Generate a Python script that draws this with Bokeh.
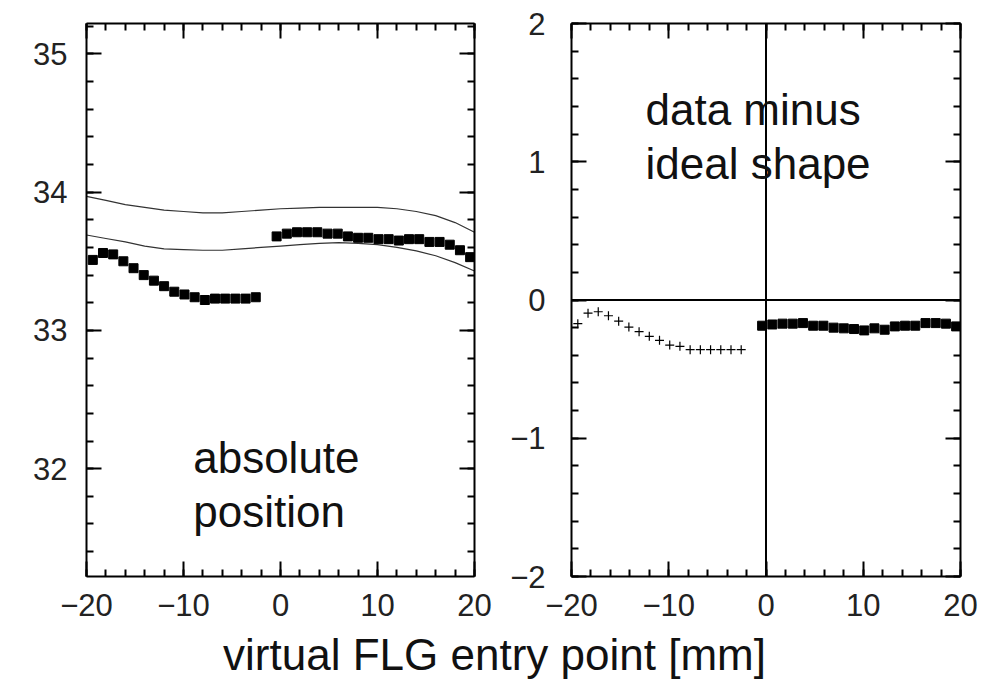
from bokeh.plotting import figure
from bokeh.models import Range1d, LinearAxis, SingleIntervalTicker, Label, Span
from bokeh.layouts import column, row
from bokeh.embed import file_html
from bokeh.resources import INLINE

# ---------------- data ----------------
x_group_a = [-19.35, -18.3, -17.25, -16.2, -15.15, -14.1, -13.05, -12.0, -10.95,
             -9.9, -8.85, -7.8, -6.75, -5.7, -4.65, -3.6, -2.55]
x_group_b = [-0.4, 0.65, 1.7, 2.75, 3.8, 4.85, 5.9, 6.95, 8.0, 9.05, 10.1,
             11.15, 12.2, 13.25, 14.3, 15.35, 16.4, 17.45, 18.5, 19.55]

abs_group_a = [33.51, 33.56, 33.55, 33.50, 33.45, 33.40, 33.36, 33.32, 33.28,
               33.26, 33.24, 33.22, 33.23, 33.23, 33.23, 33.23, 33.24]
abs_group_b = [33.68, 33.70, 33.71, 33.71, 33.71, 33.70, 33.70, 33.68, 33.67, 33.67,
               33.66, 33.66, 33.65, 33.66, 33.66, 33.64, 33.64, 33.62, 33.58, 33.53]

curve_x = [-20, -18, -16, -14, -12, -10, -8, -6, -4, -2, 0, 2, 4, 6, 8, 10,
           12, 14, 16, 18, 20]
curve_upper = [33.97, 33.94, 33.91, 33.89, 33.87, 33.86, 33.85, 33.85, 33.86, 33.87, 33.88,
               33.885, 33.89, 33.89, 33.89, 33.89, 33.88, 33.86, 33.83, 33.78, 33.71]
curve_lower = [33.69, 33.665, 33.64, 33.61, 33.59, 33.585, 33.58, 33.58, 33.59, 33.60, 33.61,
               33.62, 33.63, 33.635, 33.63, 33.62, 33.60, 33.575, 33.54, 33.49, 33.43]

diff_group_a = [-0.171, -0.095, -0.085, -0.114, -0.153, -0.196, -0.229, -0.263, -0.292,
                -0.326, -0.335, -0.359, -0.359, -0.359, -0.359, -0.359, -0.359]
diff_group_b = [-0.186, -0.177, -0.171, -0.171, -0.167, -0.186, -0.186, -0.200, -0.205, -0.210,
                -0.220, -0.205, -0.215, -0.191, -0.186, -0.186, -0.167, -0.167, -0.171, -0.191]

x_tick_values = [-20, -10, 0, 10, 20]
x_tick_labels = ["\u221220", "\u221210", "0", "10", "20"]
abs_tick_values = [32, 33, 34, 35]
abs_tick_labels = ["32", "33", "34", "35"]
diff_tick_values = [-2, -1, 0, 1, 2]
diff_tick_labels = ["\u22122", "\u22121", "0", "1", "2"]

FONT = "Liberation Sans"


def style_axis(ax, interval, ticks, labels=None, standoff=0):
    ax.ticker = SingleIntervalTicker(interval=interval, num_minor_ticks=5)
    ax.axis_line_width = 2
    ax.axis_line_color = "black"
    ax.major_tick_in = 15
    ax.major_tick_out = 0
    ax.minor_tick_in = 7
    ax.minor_tick_out = 0
    ax.major_tick_line_width = 2
    ax.minor_tick_line_width = 2
    ax.major_tick_line_color = "black"
    ax.minor_tick_line_color = "black"
    if labels is None:
        ax.major_label_overrides = {t: "" for t in ticks}
        ax.major_label_standoff = 0
    else:
        ax.major_label_overrides = {t: l for t, l in zip(ticks, labels)}
        ax.major_label_text_font = FONT
        ax.major_label_text_font_size = "31px"
        ax.major_label_text_color = "#222222"
        ax.major_label_standoff = standoff


def make_panel(width, border_left, border_right, y_range, y_ticks, y_labels, y_standoff):
    p = figure(width=width, height=630,
               x_range=Range1d(-20, 20), y_range=Range1d(*y_range),
               x_axis_type=None, y_axis_type=None,
               output_backend="svg", toolbar_location=None,
               min_border_left=border_left, min_border_right=border_right,
               min_border_top=23, min_border_bottom=54,
               outline_line_color=None, background_fill_color="white",
               border_fill_color="white")
    p.xgrid.visible = False
    p.ygrid.visible = False
    bottom = LinearAxis()
    style_axis(bottom, 10, x_tick_values, x_tick_labels, 17)
    top = LinearAxis()
    style_axis(top, 10, x_tick_values)
    left = LinearAxis()
    style_axis(left, 1, y_ticks, y_labels, y_standoff)
    right = LinearAxis()
    style_axis(right, 1, y_ticks)
    p.add_layout(bottom, "below")
    p.add_layout(top, "above")
    p.add_layout(left, "left")
    p.add_layout(right, "right")
    return p


TXT = dict(text_font=FONT, text_font_size="44px", text_color="#111111",
           text_baseline="alphabetic")

# ---------------- left panel: absolute position ----------------
p1 = make_panel(500, 86, 26, (31.22, 35.22), abs_tick_values, abs_tick_labels, 19)
p1.line(curve_x, curve_upper, line_color="#333333", line_width=1.2)
p1.line(curve_x, curve_lower, line_color="#333333", line_width=1.2)
p1.scatter(x_group_a, abs_group_a, marker="square", size=9, color="black")
p1.scatter(x_group_b, abs_group_b, marker="square", size=9, color="black")
p1.add_layout(Label(x=-9.0, y=32.084, text="absolute", **TXT))
p1.add_layout(Label(x=-9.0, y=31.692, text="position", **TXT))

# ---------------- right panel: data minus ideal shape ----------------
p2 = make_panel(483, 71, 23, (-2, 2), diff_tick_values, diff_tick_labels, 26)
p2.add_layout(Span(location=0, dimension="width", line_color="black", line_width=2))
p2.add_layout(Span(location=0, dimension="height", line_color="black", line_width=2))
p2.scatter(x_group_a, diff_group_a, marker="cross", size=9, line_color="black", line_width=1.2)
p2.scatter(x_group_b, diff_group_b, marker="square", size=9, color="black")
p2.add_layout(Label(x=-12.39, y=1.379, text="data minus", **TXT))
p2.add_layout(Label(x=-12.39, y=0.989, text="ideal shape", **TXT))

# ---------------- common x title ----------------
p3 = figure(width=983, height=49, x_range=Range1d(0, 983), y_range=Range1d(0, 49),
            x_axis_type=None, y_axis_type=None, output_backend="svg",
            toolbar_location=None, min_border=0, outline_line_color=None)
p3.xgrid.visible = False
p3.ygrid.visible = False
p3.add_layout(Label(x=494, y=25.0, text="virtual FLG entry point [mm]", text_font=FONT,
                    text_font_size="44px", text_color="#111111", text_align="center",
                    text_baseline="alphabetic"))

layout = column(row(p1, p2), p3)
open("out.html", "w").write(file_html(layout, INLINE))
